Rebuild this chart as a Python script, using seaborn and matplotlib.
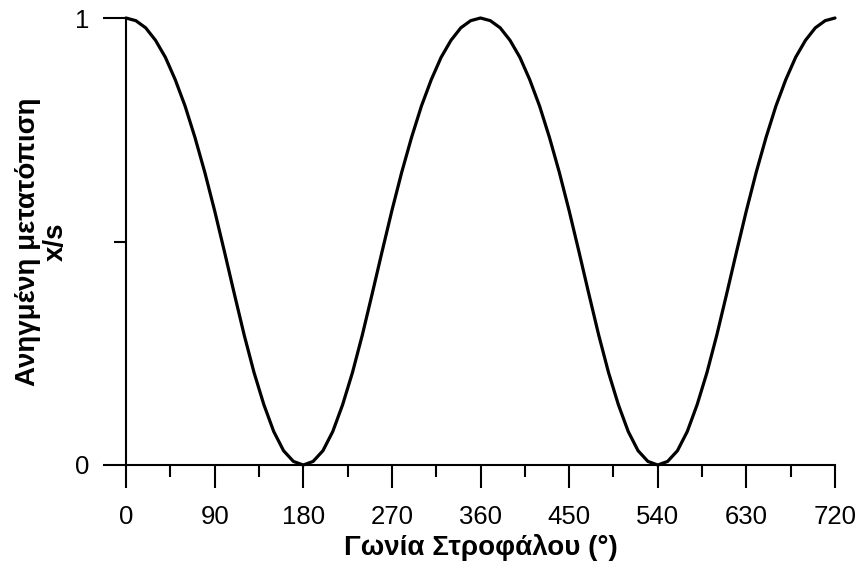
import matplotlib
matplotlib.use("Agg")
import matplotlib.pyplot as plt
from matplotlib.ticker import FixedLocator, NullFormatter
import pandas as pd
import seaborn as sns

# Crank angle (degrees) over two full revolutions
crank_angle = list(range(0, 721, 10))

# Normalised piston displacement x/s at each crank angle
x_over_s = [
    1.000, 0.994, 0.978, 0.950, 0.912, 0.862, 0.803, 0.733, 0.655, 0.569,
    0.477, 0.383, 0.291, 0.207, 0.135, 0.075, 0.032, 0.008, 0.000,
    0.008, 0.032, 0.075, 0.135, 0.207, 0.291, 0.383, 0.477, 0.569,
    0.655, 0.733, 0.803, 0.862, 0.912, 0.950, 0.978, 0.994, 1.000,
    0.994, 0.978, 0.950, 0.912, 0.862, 0.803, 0.733, 0.655, 0.569,
    0.477, 0.383, 0.291, 0.207, 0.135, 0.075, 0.032, 0.008, 0.000,
    0.008, 0.032, 0.075, 0.135, 0.207, 0.291, 0.383, 0.477, 0.569,
    0.655, 0.733, 0.803, 0.862, 0.912, 0.950, 0.978, 0.994, 1.000,
]

x_major_ticks = [0, 90, 180, 270, 360, 450, 540, 630, 720]
x_minor_ticks = [45, 135, 225, 315, 405, 495, 585, 675]
y_major_ticks = [0, 1]
y_minor_ticks = [0.5]

x_label = "Γωνία Στροφάλου (°)"
y_label = "Ανηγμένη μετατόπιση\nx/s"

sns.set_style("ticks")
plt.rcParams["font.family"] = ["Liberation Sans", "DejaVu Sans"]

df = pd.DataFrame({"angle": crank_angle, "xs": x_over_s})

fig = plt.figure(figsize=(8.64, 5.72), dpi=100)
ax = fig.add_axes([126 / 864, 1 - 465 / 572, 709 / 864, 447 / 572])

sns.lineplot(data=df, x="angle", y="xs", ax=ax, color="black",
             linewidth=2.3, clip_on=False)

ax.set_xlim(0, 720)
ax.set_ylim(0, 1)

ax.xaxis.set_major_locator(FixedLocator(x_major_ticks))
ax.xaxis.set_minor_locator(FixedLocator(x_minor_ticks))
ax.yaxis.set_major_locator(FixedLocator(y_major_ticks))
ax.yaxis.set_minor_locator(FixedLocator(y_minor_ticks))
ax.yaxis.set_minor_formatter(NullFormatter())
ax.set_xticklabels([str(t) for t in x_major_ticks])
ax.set_yticklabels([str(t) for t in y_major_ticks])

ax.tick_params(axis="both", which="major", direction="out", length=16.5,
               width=1.5, color="black", labelsize=18.5, labelcolor="black")
ax.tick_params(axis="x", which="major", pad=12)
ax.tick_params(axis="y", which="major", pad=10)
ax.tick_params(axis="both", which="minor", direction="out", length=8.5,
               width=1.5, color="black")

for side in ("top", "right"):
    ax.spines[side].set_visible(False)
for side in ("left", "bottom"):
    ax.spines[side].set_linewidth(1.5)
    ax.spines[side].set_color("black")

ax.set_xlabel(x_label, fontsize=20, fontweight="bold", color="black", labelpad=4)
ax.set_ylabel(y_label, fontsize=20, fontweight="bold", color="black",
              labelpad=4, linespacing=1.1)

fig.patch.set_facecolor("white")
ax.set_facecolor("white")
fig.savefig("out.png", dpi=100, facecolor="white")
